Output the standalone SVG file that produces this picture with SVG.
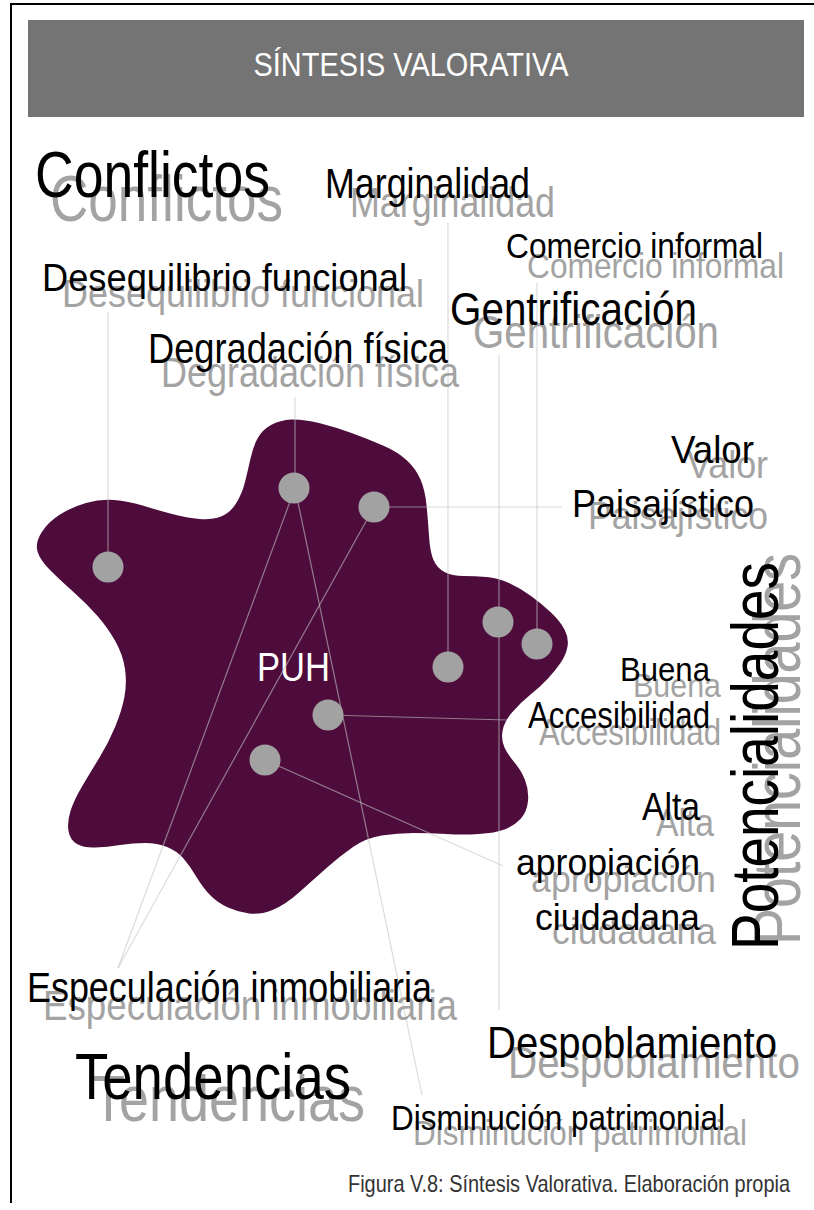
<svg xmlns="http://www.w3.org/2000/svg" width="814" height="1210" viewBox="0 0 814 1210">
<style>
.t{font-family:"Liberation Sans Narrow","Arial Narrow","Liberation Sans",Arial,sans-serif}
.b{fill:#000}
.g{fill:#a3a3a3}
.w{fill:#fff}
.dot{fill:#a2a2a2}
.ln{stroke:#c4c4c4;stroke-opacity:0.6;stroke-width:1.2;fill:none}
</style>
<rect x="0" y="0" width="814" height="1210" fill="#fff"/>
<path d="M11,1203 V4 H814" fill="none" stroke="#000" stroke-width="2"/>

<g id="header">
<rect x="28" y="20" width="776" height="97" fill="#747474"/>
<text class="t w" x="411" y="76" font-size="33" text-anchor="middle" textLength="315" lengthAdjust="spacingAndGlyphs">SÍNTESIS VALORATIVA</text>
</g>

<g id="puh">
<path fill="#4d0c3b" d="M257.5,438.5 Q262,430 271,425 Q280,420 291.5,419.5 Q303,419 319,423 Q335,427 351.5,433 Q368,439 383,445.5 Q398,452 407,460.5 Q416,469 420.5,479.5 Q425,490 426.5,505 Q428,520 429,536 Q430,552 433.5,560 Q437,568 444.5,572 Q452,576 463.5,576 Q475,576 486.5,577 Q498,578 509,583 Q520,588 531,596 Q542,604 551,612.5 Q560,621 564.5,629.5 Q569,638 567.5,646.5 Q566,655 560.5,663 Q555,671 547.5,679 Q540,687 530,695 Q520,703 512,712.5 Q504,722 502.5,731 Q501,740 504.5,747.5 Q508,755 514.5,762.5 Q521,770 525,780 Q529,790 528,801 Q527,812 520.5,819 Q514,826 504.5,829.5 Q495,833 479,834 Q463,835 446.5,834 Q430,833 413.5,833 Q397,833 381.5,835.5 Q366,838 353,847 Q340,856 326.5,868 Q313,880 299,892.5 Q285,905 272.5,910 Q260,915 249,913.5 Q238,912 228,907.5 Q218,903 210.5,895.5 Q203,888 196.5,877 Q190,866 183.5,858.5 Q177,851 167,847 Q157,843 145,843 Q133,843 120,845 Q107,847 95.5,847.5 Q84,848 77,844 Q70,840 68.5,831 Q67,822 70.5,811 Q74,800 82,786.5 Q90,773 99.5,757.5 Q109,742 115.5,726 Q122,710 124.5,696.5 Q127,683 125,669 Q123,655 115.5,641.5 Q108,628 97.5,616 Q87,604 73.5,592 Q60,580 50,570 Q40,560 37.5,551.5 Q35,543 41.5,532.5 Q48,522 60,514.5 Q72,507 86,503 Q100,499 114,500 Q128,501 142.5,505.5 Q157,510 172,514 Q187,518 199.5,519 Q212,520 221,516.5 Q230,513 236,503.5 Q242,494 245,482 Q248,470 250.5,458.5 Q253,447 257.5,438.5 Z"/>
<text class="t w" x="257" y="681" font-size="40" textLength="73" lengthAdjust="spacingAndGlyphs">PUH</text>
</g>

<g id="connectors">
<line class="ln" x1="108" y1="567" x2="108" y2="312"/>
<line class="ln" x1="295" y1="488" x2="295" y2="397"/>
<line class="ln" x1="374" y1="507" x2="562" y2="507"/>
<line class="ln" x1="448" y1="667" x2="448" y2="222"/>
<line class="ln" x1="499" y1="623" x2="499" y2="355"/>
<line class="ln" x1="499" y1="623" x2="499" y2="1010"/>
<line class="ln" x1="537" y1="644" x2="537" y2="283"/>
<line class="ln" x1="328" y1="715" x2="507" y2="720"/>
<line class="ln" x1="265" y1="760" x2="503" y2="866"/>
<line class="ln" x1="295" y1="488" x2="118" y2="968"/>
<line class="ln" x1="374" y1="507" x2="118" y2="968"/>
<line class="ln" x1="295" y1="488" x2="422" y2="1095"/>
</g>

<g id="p1"><circle class="dot" cx="108" cy="567" r="15.5"/></g>
<g id="p2"><circle class="dot" cx="294" cy="488" r="15.5"/></g>
<g id="p3"><circle class="dot" cx="374" cy="507" r="15.5"/></g>
<g id="p4"><circle class="dot" cx="498" cy="622" r="15.5"/></g>
<g id="p5"><circle class="dot" cx="537" cy="644" r="15.5"/></g>
<g id="p6"><circle class="dot" cx="448" cy="667" r="15.5"/></g>
<g id="p7"><circle class="dot" cx="328" cy="715" r="15.5"/></g>
<g id="p8"><circle class="dot" cx="265" cy="760" r="15.5"/></g>

<g id="conflictos">
<text class="t g" x="50" y="221" font-size="64" textLength="233" lengthAdjust="spacingAndGlyphs">Conflictos</text>
<text class="t b" x="35" y="197" font-size="64" textLength="235" lengthAdjust="spacingAndGlyphs">Conflictos</text>
</g>
<g id="marginalidad">
<text class="t g" x="350" y="217" font-size="42" textLength="205" lengthAdjust="spacingAndGlyphs">Marginalidad</text>
<text class="t b" x="325" y="198" font-size="42" textLength="205" lengthAdjust="spacingAndGlyphs">Marginalidad</text>
</g>
<g id="comercio">
<text class="t g" x="527" y="278" font-size="35" textLength="257" lengthAdjust="spacingAndGlyphs">Comercio informal</text>
<text class="t b" x="506" y="258" font-size="35" textLength="257" lengthAdjust="spacingAndGlyphs">Comercio informal</text>
</g>
<g id="desequilibrio">
<text class="t g" x="62" y="307" font-size="39" textLength="362" lengthAdjust="spacingAndGlyphs">Desequilibrio funcional</text>
<text class="t b" x="42" y="291" font-size="39" textLength="365" lengthAdjust="spacingAndGlyphs">Desequilibrio funcional</text>
</g>
<g id="gentrificacion">
<text class="t g" x="473" y="348" font-size="46" textLength="246" lengthAdjust="spacingAndGlyphs">Gentrificación</text>
<text class="t b" x="450" y="325" font-size="46" textLength="247" lengthAdjust="spacingAndGlyphs">Gentrificación</text>
</g>
<g id="degradacion">
<text class="t g" x="161" y="387" font-size="42" textLength="298" lengthAdjust="spacingAndGlyphs">Degradación física</text>
<text class="t b" x="148" y="363" font-size="42" textLength="300" lengthAdjust="spacingAndGlyphs">Degradación física</text>
</g>
<g id="valor">
<text class="t g" x="687" y="478" font-size="39" textLength="81" lengthAdjust="spacingAndGlyphs">Valor</text>
<text class="t g" x="588" y="529" font-size="38" textLength="180" lengthAdjust="spacingAndGlyphs">Paisajístico</text>
<text class="t b" x="671" y="463" font-size="39" textLength="83" lengthAdjust="spacingAndGlyphs">Valor</text>
<text class="t b" x="572" y="517" font-size="38" textLength="182" lengthAdjust="spacingAndGlyphs">Paisajístico</text>
</g>
<g id="accesibilidad">
<text class="t g" x="633" y="697" font-size="34" textLength="88" lengthAdjust="spacingAndGlyphs">Buena</text>
<text class="t g" x="539" y="745" font-size="36" textLength="182" lengthAdjust="spacingAndGlyphs">Accesibilidad</text>
<text class="t b" x="620" y="681" font-size="34" textLength="90" lengthAdjust="spacingAndGlyphs">Buena</text>
<text class="t b" x="528" y="728" font-size="36" textLength="182" lengthAdjust="spacingAndGlyphs">Accesibilidad</text>
</g>
<g id="apropiacion">
<text class="t g" x="656" y="836" font-size="38" textLength="58" lengthAdjust="spacingAndGlyphs">Alta</text>
<text class="t g" x="531" y="892" font-size="36" textLength="185" lengthAdjust="spacingAndGlyphs">apropiación</text>
<text class="t g" x="552" y="944" font-size="36" textLength="164" lengthAdjust="spacingAndGlyphs">ciudadana</text>
<text class="t b" x="642" y="820" font-size="38" textLength="58" lengthAdjust="spacingAndGlyphs">Alta</text>
<text class="t b" x="516" y="875" font-size="36" textLength="184" lengthAdjust="spacingAndGlyphs">apropiación</text>
<text class="t b" x="535" y="930" font-size="36" textLength="165" lengthAdjust="spacingAndGlyphs">ciudadana</text>
</g>
<g id="potencialidades">
<text class="t g" transform="translate(800,945) rotate(-90)" x="0" y="0" font-size="67" textLength="392" lengthAdjust="spacingAndGlyphs">Potencialidades</text>
<text class="t b" transform="translate(778,950) rotate(-90)" x="0" y="0" font-size="67" textLength="388" lengthAdjust="spacingAndGlyphs">Potencialidades</text>
</g>
<g id="especulacion">
<text class="t g" x="43" y="1020" font-size="42" textLength="414" lengthAdjust="spacingAndGlyphs">Especulación inmobiliaria</text>
<text class="t b" x="27" y="1002" font-size="42" textLength="405" lengthAdjust="spacingAndGlyphs">Especulación inmobiliaria</text>
</g>
<g id="despoblamiento">
<text class="t g" x="508" y="1078" font-size="44" textLength="292" lengthAdjust="spacingAndGlyphs">Despoblamiento</text>
<text class="t b" x="487" y="1058" font-size="44" textLength="290" lengthAdjust="spacingAndGlyphs">Despoblamiento</text>
</g>
<g id="tendencias">
<text class="t g" x="92" y="1121" font-size="65" textLength="273" lengthAdjust="spacingAndGlyphs">Tendencias</text>
<text class="t b" x="75" y="1099" font-size="65" textLength="276" lengthAdjust="spacingAndGlyphs">Tendencias</text>
</g>
<g id="disminucion">
<text class="t g" x="413" y="1145" font-size="35" textLength="334" lengthAdjust="spacingAndGlyphs">Disminución patrimonial</text>
<text class="t b" x="391" y="1130" font-size="35" textLength="334" lengthAdjust="spacingAndGlyphs">Disminución patrimonial</text>
</g>
<g id="caption">
<text class="t" x="348" y="1192" font-size="24" fill="#333" textLength="442" lengthAdjust="spacingAndGlyphs">Figura V.8: Síntesis Valorativa. Elaboración propia</text>
</g>
</svg>
